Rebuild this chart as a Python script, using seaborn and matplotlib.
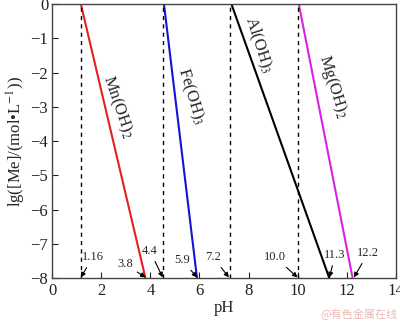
import matplotlib
matplotlib.use("Agg")
import matplotlib.pyplot as plt
import seaborn as sns
import pandas as pd

# Data
species = ["Mn(OH)$_2$", "Fe(OH)$_3$", "Al(OH)$_3$", "Mg(OH)$_2$"]
ph_start = [1.16, 4.55, 7.3, 10.05]   # pH at lg[Me] = 0
ph_end = [3.8, 5.9, 11.3, 12.25]      # pH at lg[Me] = -8
lg_start = [0, 0, 0, 0]
lg_end = [-8, -8, -8, -8]
colors = ["#e8201c", "#1414d2", "#000000", "#d624e0"]

dashed_ph = [1.16, 4.5, 7.25, 10.0]

ann_labels = ["1.16", "3.8", "4.4", "5.9", "7.2", "10.0", "11.3", "12.2"]
ann_targets = [1.16, 3.8, 4.5, 5.9, 7.2, 10.0, 11.3, 12.3]
ann_text_x = [1.65, 2.96, 3.98, 5.29, 6.55, 9.08, 11.53, 12.88]
ann_text_y = [-7.38, -7.58, -7.2, -7.46, -7.38, -7.38, -7.32, -7.26]

label_x = [2.67, 5.65, 8.39, 11.45]
label_y = [-3.0, -2.71, -1.2, -2.42]
label_rot = [-71, -73, -72, -73]

rows = []
for s, x0, x1, y0, y1 in zip(species, ph_start, ph_end, lg_start, lg_end):
    rows.append({"species": s, "pH": x0, "lg": y0})
    rows.append({"species": s, "pH": x1, "lg": y1})
df = pd.DataFrame(rows)

sns.set_style("ticks")
plt.rcParams["font.family"] = ["Liberation Serif", "DejaVu Serif"]
plt.rcParams["mathtext.fontset"] = "stix"
plt.rcParams["axes.unicode_minus"] = True

fig = plt.figure(figsize=(4.0, 3.23), dpi=100)
ax = fig.add_axes([0.131, 0.138, 0.858, 0.85])

sns.lineplot(data=df, x="pH", y="lg", hue="species", palette=colors,
             hue_order=species, legend=False, ax=ax, linewidth=1.5,
             estimator=None, sort=False)

ax.vlines(dashed_ph, -8, 0, colors="black", linestyles=(0, (3, 3)), linewidth=1.0)

for t, tx, tyv, xt in zip(ann_labels, ann_text_x, ann_text_y, ann_targets):
    ax.annotate(t, xy=(xt, -7.97), xytext=(tx, tyv), fontsize=9,
                ha="center", va="center",
                arrowprops=dict(arrowstyle="-|>", color="black", lw=0.8,
                                mutation_scale=7, shrinkA=1, shrinkB=0))

for s, lx, ly, r in zip(species, label_x, label_y, label_rot):
    ax.text(lx, ly, s, rotation=r, fontsize=12, ha="center", va="center",
            rotation_mode="anchor")

ax.set_xlim(0, 14)
ax.set_ylim(-8, 0)
ax.set_xticks(range(0, 15, 2))
ax.set_yticks(range(-8, 1))
ax.set_yticklabels(["\u2212%d" % abs(v) if v < 0 else "0" for v in range(-8, 1)])
ax.tick_params(direction="in", length=4, width=0.8, labelsize=12, colors="#222222",
               top=False, right=False, pad=3)
for sp in ax.spines.values():
    sp.set_color("#444444")
    sp.set_linewidth(1.0)
ax.set_xlabel("pH", fontsize=12, labelpad=1)
ax.set_ylabel("lg([Me]/(mol\u2022L$^{-1}$))", fontsize=12, labelpad=2)

fig.text(0.995, 0.01, "@有色金属在线", fontsize=8, color="#f0b8b8", ha="right", va="bottom",
         family=["Noto Sans CJK SC", "DejaVu Sans"])

fig.savefig("out.png", dpi=100)
